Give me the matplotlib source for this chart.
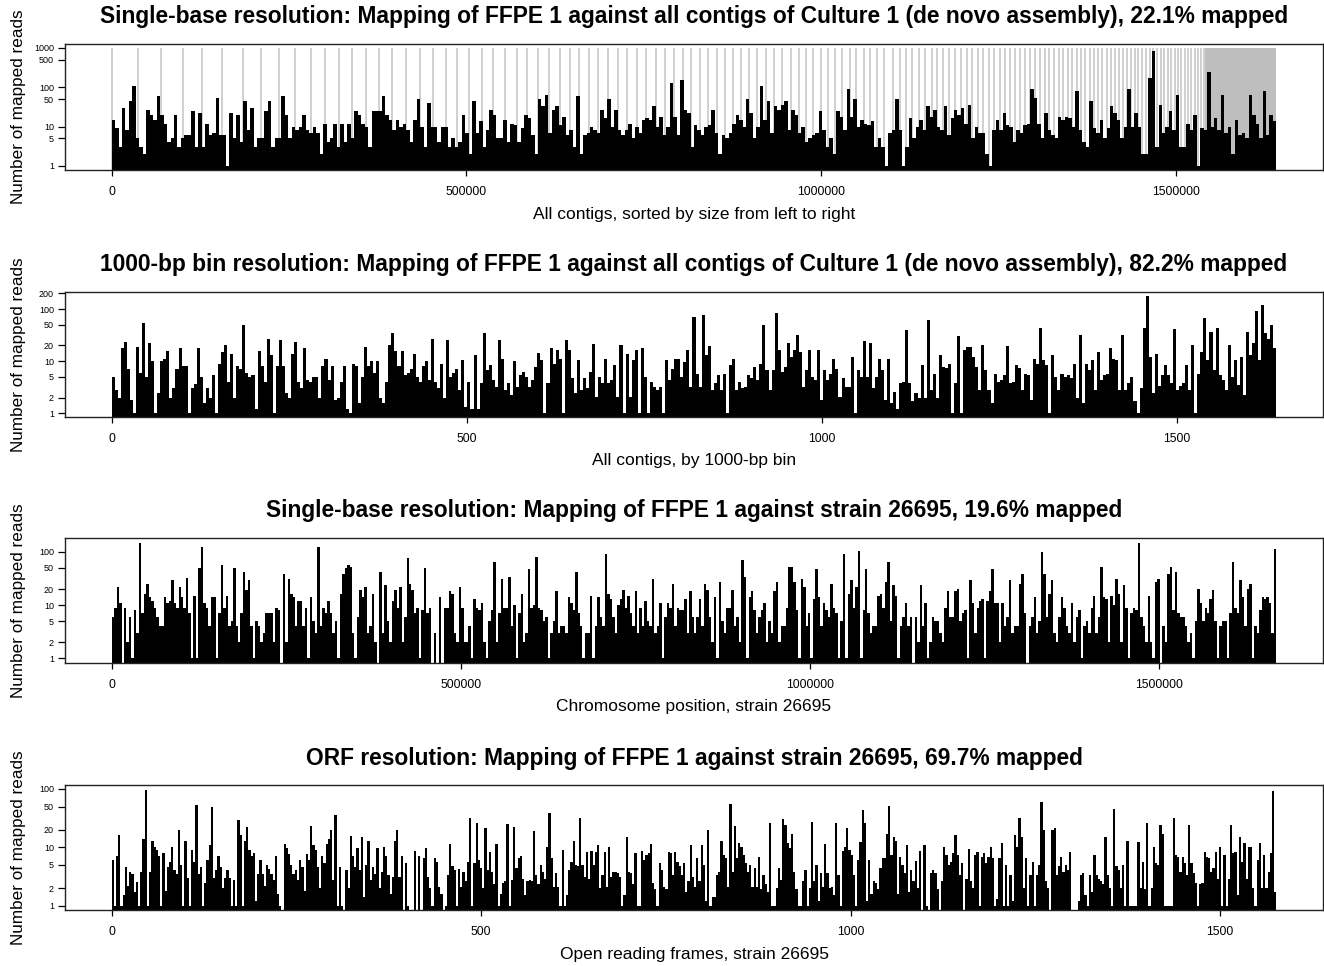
import numpy as np
import matplotlib
matplotlib.use("Agg")
import matplotlib.pyplot as plt

plt.rcParams['font.family'] = ['Liberation Sans', 'DejaVu Sans']

# ---- panel 1: single-base coverage along all contigs (left to right)
contig_reads = [15,9,3,30,8,45,110,5,3,2,27,20,15,60,20,12,4,5,20,3,5,6,6,25,3,22,3,12,6,7,55,6,6,1,22,5,20,4,45,8,
                30,3,5,5,25,45,3,5,5,60,20,5,10,8,10,20,8,7,10,7,2,12,4,5,12,3,12,4,12,5,25,20,12,10,3,25,25,25,60,20,
                15,8,15,10,12,8,4,15,50,10,3,40,10,10,4,10,
                10,3,5,3,4,20,7,2,45,7,14,3,8,27,20,5,5,15,4,12,11,4,9,20,17,6,2,50,33,65,7,27,33,11,18,6,8,3,60,2,
                6,7,10,8,7,27,17,50,10,27,8,6,8,12,5,10,7,15,17,15,33,10,18,6,10,130,18,6,155,27,22,3,11,8,6,10,11,27,7,2,
                6,5,7,12,20,15,10,50,22,5,10,110,15,45,7,33,27,36,45,8,27,20,7,10,4,5,6,7,25,8,3,5,2,25,18,8,90,18,50,10,
                15,12,
                11,14,3,5,3,1,7,8,50,8,1,3,17,5,10,15,8,33,18,27,10,8,33,6,17,27,20,30,12,36,5,10,7,7,2,1,8,15,8,22,
                11,10,4,8,7,11,12,90,55,12,5,22,8,6,5,18,15,18,17,10,80,8,4,3,45,9,7,15,5,9,33,22,15,5,10,90,10,22,10,2,
                2,175,850,3,36,7,10,25,8,65,3,3,12,8,20,1,9,8,240,10,17,8,65,7,10,2,15,6,7,5,65,20,12,5,80,6,20,14]

# contig boundaries (kb along the concatenated assembly)
contig_bounds_kb = [0, 37.6, 69.0, 100.0, 126.8, 156.3, 185.9, 211.3, 236.6, 259.2, 281.7, 301.4, 321.1, 339.4,
                    359.2, 377.5, 395.8, 415.5, 435.2, 453.5, 471.8, 486.9, 504.2, 522.1, 538.0, 554.9, 571.4,
                    585.9, 601.4, 616.9, 632.0, 646.5, 659.2, 672.8, 685.9, 700.0, 714.1, 726.8, 740.4, 753.5,
                    767.2, 780.3, 792.5, 805.2, 816.9, 829.6, 840.8, 853.1, 864.8, 876.1, 887.3, 898.6, 909.9,
                    922.1, 933.8, 945.1, 957.3, 969.0, 978.5, 988.7, 999.6, 1009.4, 1019.7, 1029.6, 1040.4,
                    1049.3, 1060.1, 1069.0, 1078.9, 1088.7, 1101.4, 1110.8, 1119.7, 1128.2, 1138.0, 1146.5,
                    1155.9, 1163.4, 1171.8, 1180.3, 1188.7, 1196.8, 1205.2, 1212.7, 1221.1, 1228.2, 1236.6,
                    1243.7, 1251.7, 1259.2, 1266.2, 1273.2, 1280.3, 1287.3, 1294.4, 1301.4, 1308.5, 1315.1,
                    1322.1, 1328.2, 1335.2, 1340.8, 1347.9, 1353.5, 1360.6, 1366.2, 1372.8, 1378.9, 1384.5,
                    1391.1, 1396.8, 1402.8, 1408.5, 1414.1, 1419.7, 1425.4, 1431.0, 1436.6, 1442.3, 1447.5,
                    1453.1, 1457.7, 1463.4, 1468.6, 1473.2, 1478.9, 1484.1, 1488.7, 1493.9, 1498.6, 1502.8,
                    1508.0, 1512.7, 1516.9, 1522.1, 1526.8, 1531.0, 1535.2, 1540.4]
small_contigs_kb = 1541.8
assembly_kb = 1642.0

# ---- panel 2: 1000-bp bins
bin_reads = [5,2.8,2,18,23,7,1.8,1,19,6,53,5,22,10,1,2.4,10,11,16,2,3,7,18,8,8,1,3,3.7,18,5,1.6,3,2,5.5,1,9,15,20,4,14,
             2,8,7,50,6,5,5.5,1.2,16,8,4,27,13,1,8,25,8,2.4,2,14,23,4,3,18,4.4,4,5,5,2,8,11,4.4,8,1.8,2,4,8,1.2,1,9,
             8,1.6,5,19,8,10,6,10,2,1.6,4,20,34,16,8,16,5.5,6,7,14,5,4,8,10,4.4,27,4,3,9,2,25,5,6,
             7,2.8,10.5,1.3,4,1.2,13,1.2,3.8,34,6.8,8.5,4.4,3.2,26,11,2.8,3.8,2.2,10,3.2,5.4,6.3,5,3.2,4.4,7.8,14.6,
             10.5,1,3.8,17.7,9,16.5,11,1,26,16.5,4.7,2.4,10.5,2.8,4.7,3,6.3,21,2.1,5,3.8,11,3.8,4.4,8.5,2.1,20,1,14,
             2.1,10.5,16.5,1,17.7,5,1,4,3.2,2.8,3.2,1,10.5,4.4,7,10.8,11,5,9.8,16.5,3.2,71,5.8,3.2,77,13,19.5,2.8,3.8,
             5.4,2.8,5.6,1,8.5,11,2.8,4,3,3.2,5.4,4.7,7.8,4.4,9,50,6.8,2.8,6.8,85,16.5,6.3,7.8,22,12,16.5,32,15,3.2,
             6.8,16.5,5,4.4,16.5,1.8,6.8,4.4,5.8,11,7,2.1,4.7,3.2,3.2,12,1,6.8,5,24,5,22,3,5,10.8,
             6.8,1.8,11,1.6,2.6,1.2,3.8,4,40,3.8,1.7,2.4,2,8.5,2,62,2.8,5.8,2,13,7.8,7.3,9,1,3.8,30,1,16.5,19,18.5,
             12,7.8,2.8,20,6.8,2.8,1.6,5.8,4,4.4,5.5,19.5,3.8,4,8.5,7.3,2.8,5.8,5.5,1.8,11,9,43,10.5,8.5,1,13,5,2.8,
             5.8,5,5.5,4.7,9,2,32,1.6,9,6.8,10.5,2.8,15,4.4,5.5,5.8,17.7,11,10.5,2.8,32,2.8,3.8,5,1.7,1,3,43,178,12,
             2.4,14,3.3,5.5,8.5,5.5,3.8,41,2.8,3.3,3.8,8.5,2.8,20,1,5.8,15,66,10.5,37,6.8,43,5.5,4.4,2.8,20,5,10.5,
             3.5,12,2.2,37,13,22,90,10.5,120,34,27,49,17.7]
n_bins = 1640

# ---- panel 3: single-base coverage along strain 26695 chromosome
chrom_reads = [6,9,22,11,0,9,2,6,1,8,3,148,7,16,25,14,12,9,6,4,4,14,11,12,30,11,9,22,14,9,32,7,1,15,1,50,
               125,11,9,4,14,14,1,7,56,9,15,4,5,50,4,2,7,42,19,29,4,1,5,4,2,3,7,7,7,2,9,8,0,39,2,31,16,14,4,12,
               12,4,9,1,14,5,3,125,4,9,7,12,7,3,5,1,16,39,50,56,52,3,1,6,19,14,22,3,4,16,2,0,42,3,24,5,2,12,19,9,
               22,2,6,75,25,19,7,9,1,8,50,7,9,0,3,0,14,0,9,
               9,18,16,3,2,22,9,2,2,4,1,13,9,8,11,2,1,5,8,65,2,7,31,9,9,34,4,10,1,7,16,2,3,48,9,10,80,
               9,8,5,6,1,3,5,18,3,4,4,3,14,11,8,42,7,4,1,3,3,15,1,4,14,6,4,90,
               16,13,6,3,10,13,19,9,15,7,4,18,3,9,4,12,5,4,31,3,4,11,1,6,11,9,25,4,9,8,8,13,3,18,6,3,6,13,4,25,
               19,6,2,14,1,27,5,3,9,9,19,4,6,2,70,34,
               1,14,18,8,3,6,8,11,2,5,3,18,27,2,4,4,9,52,52,27,
               8,1,31,22,4,7,1,13,48,14,4,11,8,6,25,9,7,1,5,90,1,16,29,9,22,105,1,8,48,7,3,4,4,15,16,9,27,
               65,5,24,15,1,4,6,11,4,6,0,6,2,24,4,11,1,2,6,5,5,3,2,9,18,6,6,18,20,5,7,8,1,29,11,3,9,12,13,1,
               12,18,48,11,11,2,11,4,6,29,3,4,4,25,39,7,0,4,6,14,3,5,100,39,6,16,29,3,2,6,14,9,4,3,11,2,6,8,1,4,
               5,3,9,15,3,6,52,14,13,2,15,10,31,16,2,24,9,1,7,9,8,148,6,4,2,15,2,1,27,31,0,4,2,39,52,8,42,7,6,6,
               4,2,3,1,5,20,11,5,9,7,13,19,5,1,4,5,5,1,7,65,9,7,29,14,4,20,25,1,4,3,8,14,13,14,11,3,115]
genome_len = 1667867

# ---- panel 4: reads per ORF
orf_reads = [6,1,7,16,1,1.5,4.6,2.2,3.8,3.5,1.7,2.5,1,3.8,14,96,1,3.8,13,10,9,7,1,8,1.8,4.6,5.6,10,4,3.5,20,5,1,13,3,
             1,9,5.6,53,3.5,4.6,1,2.4,6,11,50,3,4,7,4.6,2,3,4,3,1,2.7,1,29,16,1,13,22,9,7,8,1.2,3.5,6,3.5,2.2,5,4.3,
             3.5,2.7,7,1.6,1,0,11.6,9.6,7.8,5,3.5,4,2.7,6,4.6,1.8,7.8,6,23,11,9,4.6,2,7,5.3,11.6,13.6,20,2.7,36,1,4.6,
             1,0,4,2,15.8,7,4.6,9.6,4,15,1.4,5,13,2.7,4.6,3.5,9.6,2,3.8,10,7,3.3,1.6,3.1,13,20,3.1,7,0,5.3,1,0,0,8.6,0,7,
             0,6.6,9.6,3.1,2,1,6.6,5.7,2.1,1.6,0,1,3.4,11.4,4.7,4.1,1,4.3,2.1,3.8,2.6,5.7,32,1,5.3,26,6,4.4,2,21,4.1,
             8.2,3.8,2.3,11.4,1,1.6,2.4,2.6,25,1,2.8,22,4.4,6.5,7,2.9,1.5,2.6,2.8,2.6,19,3.4,2.3,5,3.8,2.9,10,38,6.5,
             2.1,3.6,2.1,1,9,1,1.5,4.1,5.7,13,5,4.7,32,5,3.1,8.4,2.9,8.6,5,8.2,11,2,3.4,8.2,2.1,10,3.1,3.8,3.8,3.6,
             3.1,1,1.5,15,3.8,3.6,2.3,7.9,1,1,8.6,6,7.4,7.9,11.4,2.4,1.9,1,5.3,4.1,2.1,1.9,8.2,7.9,3.4,8.4,5.7,4.7,
             3.4,5.3,1.7,2.6,11,3.1,2.1,6.5,2.6,11,5,1.2,20,1,1.4,1.4,3.4,3.8,13,7.4,6.5,2.1,55,3.8,23,6.5,11.7,10,
             7.4,5.3,3.8,5,2.1,4.4,2.1,6.9,1.9,3.4,2.3,1.7,26,1,1,2,4.4,2.8,30,24,11.7,9.6,17,3.8,1.9,1,1,2.6,4.1,1,
             2,27,2.6,5,1.2,3.6,2.1,11.2,3.6,2,2.1,1.5,26,3.4,1,8.6,10,21,9,7.4,3.4,1,6,12.5,44,26,1.2,6,1.6,2.6,2.4,
             1.9,4.4,6.5,6.6,17,52,7.4,15,13,1.6,6.9,
             4.9,3.6,11,1.7,4.1,2.6,5.8,2,8.6,0,11,1,0,3.6,4.1,3.6,1.9,0,2.6,10,7.4,5,5.7,7.9,16,7.4,3.4,5.3,0,2.9,
             9.4,2.6,2,7.4,8.4,1,6.9,7.9,5.3,6.9,10,6.5,1,1.3,6.5,11.7,1,5,1,3.4,1.2,16,10,32,15,2,6.5,1,3.4,5.7,1,
             3.4,5,59,20,2.6,2,0,20,21,3.4,4.7,6.9,3.8,5,4.1,8.2,0,0,0,1.2,3.4,3.6,1.5,1,3.4,1.7,7.4,3.4,2.9,2.6,2.3,
             15,3.4,2,1,45,4.7,4.1,2,5,1,13,1,1,1,1,12.5,2,5.7,1.9,26,1,2,10,5.3,5,24,17,1,1,1,1,32,7.4,6.9,3.8,6.9,
             5.3,3.4,24,5.3,3.6,2.4,1,2.3,2.4,8.4,6.9,6.5,3.8,4.4,8.4,2.9,10,1,7.4,1,2.9,24,7.9,8.4,1.5,15,5.7,11.7,
             2.9,10,10,2,1,6,11.7,2,7.4,2,3.8,7.9,92,1.7]
n_orfs = 1576

titles = ["Single-base resolution: Mapping of FFPE 1 against all contigs of Culture 1 (de novo assembly), 22.1% mapped",
          "1000-bp bin resolution: Mapping of FFPE 1 against all contigs of Culture 1 (de novo assembly), 82.2% mapped",
          "Single-base resolution: Mapping of FFPE 1 against strain 26695, 19.6% mapped",
          "ORF resolution: Mapping of FFPE 1 against strain 26695, 69.7% mapped"]
xlabels = ["All contigs, sorted by size from left to right",
           "All contigs, by 1000-bp bin",
           "Chromosome position, strain 26695",
           "Open reading frames, strain 26695"]
yticks_all = [[1, 5, 10, 50, 100, 500, 1000],
              [1, 2, 5, 10, 20, 50, 100, 200],
              [1, 2, 5, 10, 20, 50, 100],
              [1, 2, 5, 10, 20, 50, 100]]
xticks_all = [[0, 500000, 1000000, 1500000],
              [0, 500, 1000, 1500],
              [0, 500000, 1000000, 1500000],
              [0, 500, 1000, 1500]]
ylims = [(0.79, 1260), (0.85, 212), (0.82, 181), (0.84, 117)]

W, H = 1324, 966
fig = plt.figure(figsize=(W / 100, H / 100), dpi=100)

# axes boxes in pixels: (top, bottom)
boxes = [(44, 170), (292, 417), (538, 663), (785, 910)]
left_px, right_px = 65, 1323

panels = [(contig_reads, assembly_kb * 1000), (bin_reads, n_bins),
          (chrom_reads, genome_len), (orf_reads, n_orfs)]

for i, ((vals, length), (top, bot)) in enumerate(zip(panels, boxes)):
    ax = fig.add_axes([left_px / W, 1 - bot / H, (right_px - left_px) / W, (bot - top) / H])
    ylo, yhi = ylims[i]
    ax.set_yscale('log')
    ax.set_xlim(-0.04 * length, 1.04 * length)
    ax.set_ylim(ylo, yhi)

    if i == 0:
        bounds = np.array(contig_bounds_kb) * 1000
        ax.vlines(bounds, ylo, 1000, color='#c4c4c4', lw=1.1, zorder=1)
        ax.bar(small_contigs_kb * 1000, 1000 - ylo, width=(assembly_kb - small_contigs_kb) * 1000,
               bottom=ylo, align='edge', color='#bebebe', linewidth=0, zorder=1)

    v = np.asarray(vals, float)
    step = length / len(v)
    x = np.arange(len(v)) * step
    ax.bar(x, np.clip(v - ylo, 0, None), width=step, bottom=ylo, align='edge',
           color='black', linewidth=0, zorder=2)

    ax.set_yticks(yticks_all[i])
    ax.set_yticklabels([str(t) for t in yticks_all[i]])
    ax.yaxis.set_minor_locator(plt.NullLocator())
    ax.set_xticks(xticks_all[i])
    ax.set_xticklabels([str(t) for t in xticks_all[i]])
    ax.tick_params(axis='y', labelsize=6.5, length=5, width=0.9, pad=3)
    ax.tick_params(axis='x', labelsize=8.8, length=4.5, width=0.9, pad=7)
    for s in ax.spines.values():
        s.set_linewidth(1.0)
        s.set_color('#222222')

    h = bot - top
    ax.text(0.5, 1 + 27 / h, titles[i], transform=ax.transAxes, ha='center', va='center',
            fontsize=16.4, fontweight='bold')
    ax.text(0.5, -44 / h, xlabels[i], transform=ax.transAxes, ha='center', va='center', fontsize=12.5)
    ax.set_ylabel('Number of mapped reads', fontsize=12.3)
    ax.yaxis.set_label_coords(-0.031, 0.5)

fig.savefig('out.png', dpi=100)
